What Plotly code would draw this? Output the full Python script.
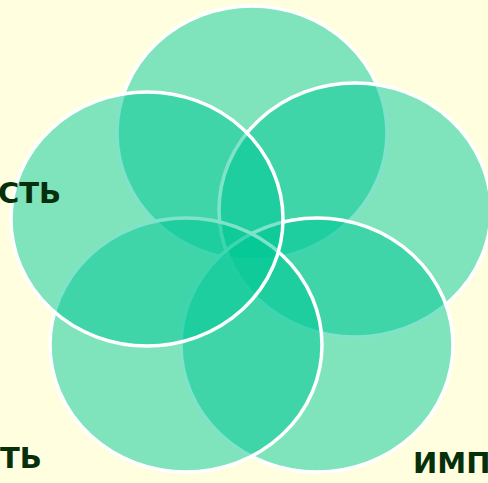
import plotly.graph_objects as go

# Circle data (drawing order: top, right, bottom-right, bottom-left, left)
circle_names = ["top", "right", "bottom-right", "bottom-left", "left"]
center_x = [252, 355, 317, 186, 147]
center_y = [133, 210, 345, 345, 219]
radius_x = [135, 136, 136, 136, 136]
radius_y = [127, 127, 127, 127, 127]

# Visible (cropped) label texts
label_texts = ["СТЬ", "ТЬ", "ИМП"]
label_x = [63, 44, 411]
label_y = [193, 458, 463]
label_anchor = ["right", "right", "left"]

BG = "#FFFFE0"
FILL = "rgba(0,200,150,0.5)"
TEXT_COLOR = "#05300A"

fig = go.Figure()

shapes = []
for cx, cy, rx, ry in zip(center_x, center_y, radius_x, radius_y):
    shapes.append(dict(
        type="circle", xref="x", yref="y",
        x0=cx - rx, x1=cx + rx, y0=cy - ry, y1=cy + ry,
        fillcolor=FILL,
        line=dict(color="white", width=3.5),
        layer="above",
    ))

annotations = []
for t, x, y, a in zip(label_texts, label_x, label_y, label_anchor):
    annotations.append(dict(
        text="<b>" + t + "</b>", x=x, y=y, xref="x", yref="y",
        xanchor=a, yanchor="middle", showarrow=False,
        font=dict(family="DejaVu Sans, Arial, sans-serif", size=29, color=TEXT_COLOR),
    ))

fig.update_layout(
    width=488, height=483,
    margin=dict(l=0, r=0, t=0, b=0),
    paper_bgcolor=BG, plot_bgcolor=BG,
    xaxis=dict(range=[0, 488], visible=False, fixedrange=True),
    yaxis=dict(range=[483, 0], visible=False, fixedrange=True),
    shapes=shapes,
    annotations=annotations,
    showlegend=False,
)

fig.write_html(
    "out.html",
    config={"displayModeBar": False},
    post_script="document.body.style.margin='0';document.body.style.overflow='hidden';document.body.style.background='#FFFFE0';",
)
